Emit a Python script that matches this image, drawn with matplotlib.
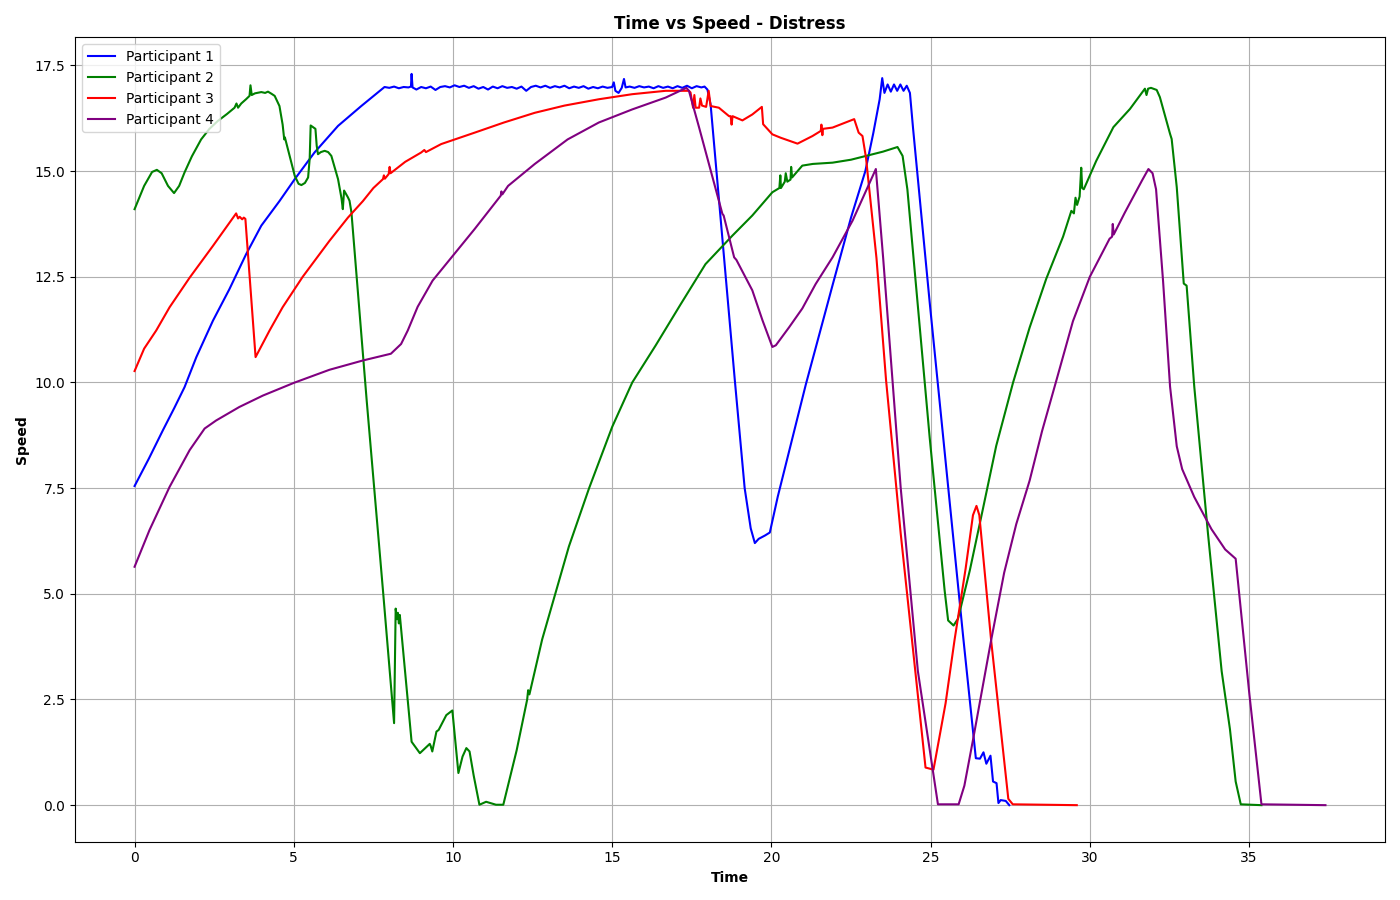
import matplotlib
matplotlib.use("Agg")
import matplotlib.pyplot as plt

# ------ Data ------
p1_time = [0.0, 0.45, 0.89, 1.25, 1.57, 1.94, 2.46, 2.98, 3.5, 3.98, 4.55, 5.03,
           5.65, 6.39, 7.12, 7.85,
           8.0, 8.15, 8.3, 8.45, 8.6, 8.68, 8.7, 8.73, 8.85, 9.0, 9.15, 9.3,
           9.45, 9.6, 9.75, 9.9, 10.05, 10.2, 10.35, 10.5, 10.65, 10.8, 10.95,
           11.1, 11.25, 11.4, 11.55, 11.7, 11.85, 12.0, 12.15, 12.3, 12.45,
           12.6, 12.75, 12.9, 13.05, 13.2, 13.35, 13.5, 13.65, 13.8, 13.95,
           14.1, 14.25, 14.4, 14.55, 14.7, 14.85, 15.0, 15.05, 15.1, 15.2,
           15.3, 15.37, 15.42, 15.55, 15.7, 15.85, 16.0, 16.15, 16.3, 16.45,
           16.6, 16.75, 16.9, 17.05, 17.2, 17.35, 17.5, 17.65, 17.8, 17.9,
           17.99, 18.09, 18.85, 19.16, 19.35, 19.48, 19.6, 19.8, 19.95, 20.2,
           20.6, 21.08, 21.92, 22.5, 22.95, 23.2, 23.4, 23.48, 23.55, 23.65,
           23.75, 23.85, 23.95, 24.05, 24.15, 24.25, 24.35, 24.45, 24.97, 26.02,
           26.42, 26.55, 26.66, 26.75, 26.88, 26.96, 27.07, 27.13, 27.2, 27.36,
           27.47]
p1_speed = [7.55, 8.2, 8.87, 9.4, 9.89, 10.6, 11.46, 12.21, 13.03, 13.71, 14.29, 14.81,
            15.44, 16.07, 16.54, 16.99,
            16.97, 17.0, 16.96, 16.99, 16.98, 17.0, 17.3, 16.98, 16.93, 16.99, 16.96, 17.0,
            16.92, 16.99, 17.01, 16.98, 17.03, 16.99, 17.02, 16.97, 17.01, 16.95, 16.99,
            16.93, 17.0, 16.96, 17.01, 16.97, 16.99, 16.95, 17.0, 16.9, 16.99,
            17.02, 16.98, 17.02, 16.97, 17.01, 16.98, 17.02, 16.96, 17.0, 16.97,
            17.01, 16.95, 16.99, 16.96, 17.0, 16.97, 16.99, 17.1, 16.9, 16.85,
            16.97, 17.18, 16.98, 17.0, 16.97, 17.01, 16.98, 17.0, 16.96, 17.01,
            16.97, 17.0, 16.96, 17.01, 16.97, 17.02, 16.96, 17.01, 16.98, 17.0,
            16.93, 16.58, 10.06, 7.5, 6.55, 6.2, 6.3, 6.38, 6.45, 7.3,
            8.5, 9.95, 12.3, 13.9, 15.0, 15.9, 16.7, 17.2, 16.85, 17.05,
            16.88, 17.05, 16.9, 17.05, 16.9, 17.02, 16.85, 16.0, 11.9, 4.0,
            1.11, 1.1, 1.25, 0.98, 1.17, 0.56, 0.52, 0.05, 0.12, 0.1,
            0.0]

p2_time = [0.0, 0.3, 0.55, 0.7, 0.85, 1.05, 1.24, 1.4, 1.57, 1.8, 2.09, 2.35,
           2.62, 2.9, 3.14, 3.2, 3.25, 3.35, 3.5, 3.61, 3.64, 3.68, 3.78, 3.98,
           4.1, 4.19, 4.3, 4.4, 4.55, 4.65, 4.7, 4.72, 4.87, 5.03, 5.15, 5.24,
           5.35, 5.45, 5.5, 5.53, 5.68, 5.72, 5.76, 5.85, 5.97, 6.08, 6.18, 6.3,
           6.39, 6.5, 6.54, 6.58, 6.7, 6.75, 6.81, 7.29, 7.81, 8.15, 8.2, 8.24,
           8.27, 8.3, 8.33, 8.7, 8.96, 9.27, 9.3, 9.35, 9.48, 9.55, 9.79, 9.98,
           10.17, 10.3, 10.42, 10.52, 10.65, 10.83, 11.04, 11.35, 11.58, 12.0,
           12.33, 12.36, 12.4, 12.8, 13.22, 13.64, 14.27, 15.0, 15.63, 16.36,
           17.15, 17.93, 18.77, 19.4, 20.03, 20.25, 20.28, 20.3, 20.42, 20.45,
           20.5, 20.6, 20.62, 20.65, 20.97, 21.3, 21.92, 22.5, 22.97, 23.5,
           23.96, 24.12, 24.27, 24.97, 25.44, 25.55, 25.72, 25.86, 26.23, 26.64,
           27.06, 27.59, 28.11, 28.63, 29.16, 29.42, 29.5, 29.55, 29.6, 29.68,
           29.73, 29.76, 29.81, 30.2, 30.74, 31.26, 31.73, 31.78, 31.83, 31.92,
           32.1, 32.2, 32.52, 32.57, 32.73, 32.95, 33.04, 33.28, 33.71, 34.14,
           34.4, 34.58, 34.74, 35.39]
p2_speed = [14.1, 14.65, 14.98, 15.03, 14.95, 14.65, 14.48, 14.65, 14.97, 15.35, 15.75, 16.0,
            16.19, 16.35, 16.5, 16.6, 16.5, 16.6, 16.7, 16.78, 17.03, 16.8, 16.84, 16.87,
            16.85, 16.88, 16.83, 16.78, 16.54, 16.1, 15.75, 15.8, 15.36, 14.89, 14.7, 14.67,
            14.72, 14.85, 15.3, 16.08, 16.0, 15.6, 15.4, 15.45, 15.48, 15.45, 15.36, 15.05,
            14.81, 14.35, 14.1, 14.54, 14.38, 14.3, 14.03, 9.57, 5.0, 1.94, 4.65, 4.4,
            4.55, 4.3, 4.5, 1.5, 1.23, 1.45, 1.4, 1.27, 1.74, 1.78, 2.13, 2.24,
            0.76, 1.15, 1.35, 1.27, 0.7, 0.01, 0.08, 0.01, 0.01, 1.3,
            2.5, 2.72, 2.62, 3.92, 5.02, 6.12, 7.49, 8.95, 10.0, 10.87,
            11.85, 12.8, 13.47, 13.95, 14.5, 14.6, 14.9, 14.6, 14.75, 14.95,
            14.75, 14.8, 15.1, 14.85, 15.13, 15.17, 15.2, 15.27, 15.36, 15.46,
            15.57, 15.36, 14.57, 8.7, 5.08, 4.37, 4.25, 4.41, 5.55, 7.0,
            8.5, 10.0, 11.3, 12.45, 13.45, 14.06, 14.0, 14.37, 14.2, 14.4,
            15.08, 14.6, 14.57, 15.24, 16.04, 16.47, 16.95, 16.8, 16.95, 16.97,
            16.92, 16.75, 15.88, 15.76, 14.62, 12.34, 12.29, 9.9, 6.43, 3.17,
            1.8, 0.56, 0.02, 0.0]

p3_time = [0.0, 0.3, 0.68, 1.1, 1.73, 2.46, 3.19, 3.25, 3.3, 3.38,
           3.43, 3.48, 3.8, 4.24, 4.65, 5.28, 6.12, 6.7, 7.17, 7.5, 7.8, 7.83,
           7.86, 7.98, 8.01, 8.04, 8.5, 9.0, 9.1, 9.15, 9.63, 10.68, 11.6, 12.57,
           13.5, 14.58, 15.63, 16.68, 17.41, 17.46, 17.54, 17.58, 17.62, 17.73,
           17.77, 17.82, 17.95, 18.03, 18.09, 18.35, 18.67, 18.72, 18.75, 18.78,
           19.09, 19.4, 19.7, 19.74, 20.03, 20.29, 20.82, 21.29, 21.55, 21.57,
           21.6, 21.62, 21.92, 22.6, 22.74, 22.86, 22.97, 23.3, 23.6, 24.06,
           24.84, 25.09, 25.47, 25.75, 26.1, 26.33, 26.44, 26.53, 26.9, 27.44,
           27.58, 29.59]
p3_speed = [10.27, 10.8, 11.23, 11.78, 12.48, 13.23, 14.0, 13.88, 13.92, 13.86,
            13.9, 13.87, 10.6, 11.23, 11.78, 12.5, 13.35, 13.9, 14.29, 14.6, 14.81, 14.9,
            14.82, 14.93, 15.1, 14.95, 15.22, 15.44, 15.5, 15.45, 15.64, 15.91, 16.15, 16.38,
            16.55, 16.7, 16.82, 16.9, 16.9, 16.86, 16.5, 16.8, 16.5, 16.5,
            16.72, 16.55, 16.52, 16.9, 16.54, 16.5, 16.3, 16.3, 16.1, 16.3,
            16.2, 16.34, 16.52, 16.11, 15.87, 15.79, 15.65, 15.83, 15.95, 16.1,
            15.85, 16.0, 16.03, 16.23, 15.91, 15.83, 15.32, 12.94, 10.06, 6.43,
            0.89, 0.84, 2.41, 3.9, 5.6, 6.86, 7.08, 6.86, 3.9, 0.15,
            0.02, 0.0]

p4_time = [0.0, 0.47, 1.1, 1.73, 2.2, 2.56, 3.29, 4.03, 5.0, 6.12, 7.17, 8.05,
           8.37, 8.58, 8.89, 9.36, 9.89, 10.68, 11.5, 11.52, 11.55, 11.73, 12.57, 13.6,
           14.58, 15.63, 16.68, 17.33, 17.41, 17.73, 18.46, 18.5, 18.83, 18.9,
           19.4, 19.72, 20.03, 20.14, 20.56, 20.97, 21.39, 21.92, 22.55, 23.28,
           23.51, 24.06, 24.6, 25.23, 25.88, 26.06, 26.33, 26.9, 27.31, 27.69,
           28.11, 28.5, 28.95, 29.47, 30.0, 30.62, 30.7, 30.72, 30.75, 31.1,
           31.64, 31.84, 31.97, 32.08, 32.3, 32.52, 32.73, 32.9, 33.28, 33.82,
           34.25, 34.58, 35.01, 35.39, 37.4]
p4_speed = [5.64, 6.51, 7.53, 8.4, 8.91, 9.1, 9.42, 9.69, 9.99, 10.3, 10.52, 10.68,
            10.91, 11.23, 11.79, 12.41, 12.9, 13.63, 14.42, 14.52, 14.45, 14.65, 15.17, 15.75,
            16.15, 16.46, 16.74, 16.97, 16.9, 16.03, 13.99, 13.95, 12.96, 12.9,
            12.18, 11.47, 10.84, 10.88, 11.31, 11.75, 12.33, 12.96, 13.83, 15.05,
            12.94, 7.51, 3.17, 0.02, 0.02, 0.46, 1.54, 3.9, 5.5, 6.65,
            7.68, 8.85, 10.05, 11.45, 12.5, 13.4, 13.45, 13.75, 13.5, 14.02,
            14.78, 15.05, 14.95, 14.57, 12.4, 9.9, 8.49, 7.95, 7.29, 6.53,
            6.05, 5.83, 2.63, 0.02, 0.0]

participants = [
    ("Participant 1", p1_time, p1_speed, "blue"),
    ("Participant 2", p2_time, p2_speed, "green"),
    ("Participant 3", p3_time, p3_speed, "red"),
    ("Participant 4", p4_time, p4_speed, "purple"),
]

# ------ Plot ------
plt.figure(figsize=(14, 9))
for name, t, s, c in participants:
    plt.plot(t, s, label=name, color=c)

plt.title("Time vs Speed - Distress", fontweight="bold")
plt.xlabel("Time", fontweight="bold")
plt.ylabel("Speed", fontweight="bold")
plt.legend(loc="upper left")
plt.grid(True)
plt.tight_layout()
plt.savefig("out.png", dpi=100)
